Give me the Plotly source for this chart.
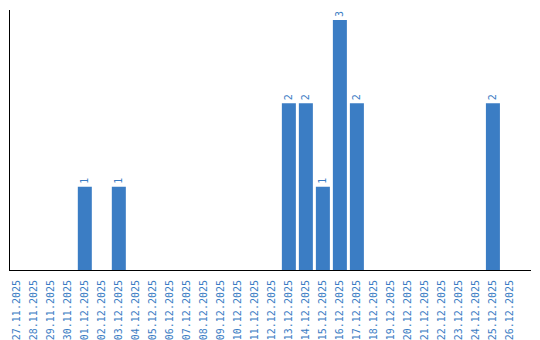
import plotly.graph_objects as go

dates = ["27.11.2025","28.11.2025","29.11.2025","30.11.2025","01.12.2025","02.12.2025",
         "03.12.2025","04.12.2025","05.12.2025","06.12.2025","07.12.2025","08.12.2025",
         "09.12.2025","10.12.2025","11.12.2025","12.12.2025","13.12.2025","14.12.2025",
         "15.12.2025","16.12.2025","17.12.2025","18.12.2025","19.12.2025","20.12.2025",
         "21.12.2025","22.12.2025","23.12.2025","24.12.2025","25.12.2025","26.12.2025"]
counts = [0,0,0,0,1,0,1,0,0,0,0,0,0,0,0,0,2,2,1,3,2,0,0,0,0,0,0,0,2,0]

blue = "#3b7dc4"
fontfam = "DejaVu Sans Mono"
labels = [str(v) if v else "" for v in counts]

fig = go.Figure(go.Bar(
    x=dates, y=counts, marker_color=blue, marker_line_width=0,
    text=labels, textposition="outside", textangle=-90,
    textfont=dict(color=blue, size=10, family=fontfam),
    cliponaxis=False,
))
fig.update_layout(
    width=540, height=340,
    margin=dict(l=10, r=9, t=10, b=70),
    paper_bgcolor="white", plot_bgcolor="white",
    bargap=0.176, showlegend=False,
    font=dict(family=fontfam, size=10, color=blue),
)
fig.update_xaxes(type="category", range=[-0.4, 30.24], tickangle=-90, showline=True,
                 linecolor="black", linewidth=1, ticks="outside", ticklen=5,
                 tickcolor="rgba(0,0,0,0)", showgrid=False, automargin=False,
                 tickfont=dict(family=fontfam, size=10, color=blue))
fig.update_yaxes(range=[0, 3.12], showline=True, linecolor="black", linewidth=1,
                 showticklabels=False, ticks="", showgrid=False, zeroline=False,
                 automargin=False)
fig.write_html("out.html")
